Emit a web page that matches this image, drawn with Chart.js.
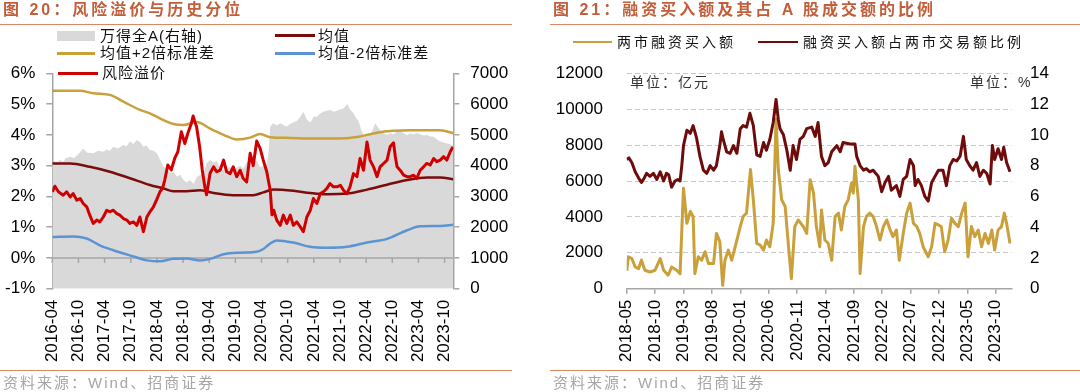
<!DOCTYPE html>
<html><head><meta charset="utf-8">
<script src="https://cdn.jsdelivr.net/npm/chart.js@4.4.0/dist/chart.umd.min.js"></script>
<style>
html,body{margin:0;padding:0;background:#fff;width:1080px;height:392px;overflow:hidden;}
#wrap{position:relative;width:1080px;height:392px;}
canvas{position:absolute;top:0;}
.t{position:absolute;white-space:nowrap;font-family:'Liberation Sans','Noto Sans CJK SC',sans-serif;line-height:18px;}
.title{font-size:16px;font-weight:bold;color:#C25E3A;letter-spacing:3px;top:1px;}
.rule{position:absolute;height:1.5px;background:#DA8763;}
.lg{font-size:15px;color:#111;letter-spacing:1px;}
.lg2{font-size:14px;color:#111;letter-spacing:3px;}
.unit{font-size:14px;color:#333;letter-spacing:2px;}
.sw{position:absolute;}
.src{font-size:15px;color:#A6A6A6;letter-spacing:2px;top:374px;}
</style></head>
<body><div id="wrap">
<canvas id="c1" width="540" height="392" style="left:0"></canvas>
<canvas id="c2" width="540" height="392" style="left:540px"></canvas>

<div class="t title" style="left:3px">图 20：风险溢价与历史分位</div>
<div class="rule" style="left:0;top:23.5px;width:512px"></div>
<div class="sw" style="left:57px;top:31px;width:38px;height:10px;background:#D9D9D9"></div>
<div class="t lg" style="left:100px;top:27px">万得全A(右轴)</div>
<div class="sw" style="left:275px;top:34px;width:40px;height:2.5px;background:#7A0C0C"></div>
<div class="t lg" style="left:318px;top:27px">均值</div>
<div class="sw" style="left:57px;top:52px;width:38px;height:2.5px;background:#C9A13B"></div>
<div class="t lg" style="left:100px;top:44px">均值+2倍标准差</div>
<div class="sw" style="left:275px;top:52px;width:40px;height:2.5px;background:#5B93D3"></div>
<div class="t lg" style="left:318px;top:44px">均值-2倍标准差</div>
<div class="sw" style="left:58px;top:71.5px;width:40px;height:3px;background:#D00000"></div>
<div class="t lg" style="left:102px;top:64px">风险溢价</div>
<div class="rule" style="left:0;top:369.5px;width:512px"></div>
<div class="t src" style="left:3px">资料来源：Wind、招商证券</div>

<div class="t title" style="left:553px">图 21：融资买入额及其占 A 股成交额的比例</div>
<div class="rule" style="left:550px;top:23.5px;width:530px"></div>
<div class="sw" style="left:573px;top:40.5px;width:39px;height:2.5px;background:#C9A03A"></div>
<div class="t lg2" style="left:617px;top:33px">两市融资买入额</div>
<div class="sw" style="left:758px;top:40.5px;width:40px;height:2.5px;background:#6E0B0B"></div>
<div class="t lg2" style="left:803px;top:33px">融资买入额占两市交易额比例</div>
<div class="t unit" style="left:630px;top:73px">单位：亿元</div>
<div class="t unit" style="left:970px;top:73px">单位：%</div>
<div class="rule" style="left:550px;top:369.5px;width:530px"></div>
<div class="t src" style="left:553px">资料来源：Wind、招商证券</div>
</div>
<script>
// ---------- 图20 data (x = months since 2016-04) ----------
const lpXLabels = ['2016-04','2016-10','2017-04','2017-10','2018-04','2018-10','2019-04','2019-10','2020-04','2020-10','2021-04','2021-10','2022-04','2022-10','2023-04','2023-10'];
const premiumMonths = [0,0.6,1.4,2.5,3.3,4.1,4.8,5.6,6.4,7.1,7.9,8.6,9.4,10.2,10.9,11.7,12.5,13.2,14.0,14.8,15.5,16.3,17.1,17.8,18.6,19.4,20.1,20.9,21.7,22.4,23.2,23.9,24.7,25.3,25.8,26.5,27.3,28.1,28.8,29.6,30.4,31.1,31.9,32.3,33.1,33.8,34.4,35.0,35.4,36.2,37.0,37.7,38.5,39.3,40.0,40.8,41.5,42.3,43.1,43.8,44.6,45.4,46.1,46.9,47.7,48.4,49.2,50.0,50.4,50.8,51.5,52.3,53.0,53.8,54.6,55.3,56.1,56.9,57.6,58.4,59.2,59.9,60.7,61.5,62.2,63.0,63.7,64.5,65.3,66.1,66.8,67.6,68.3,69.1,69.9,70.6,71.4,72.2,72.9,73.7,74.5,75.2,76.0,76.8,77.5,78.3,78.7,79.1,79.8,80.6,81.4,82.1,82.9,83.6,84.4,85.2,85.9,86.7,87.5,88.2,89.0,89.8,90.5,91.3,91.9];
const premiumValues = [2.15,2.33,2.15,2.04,2.15,1.98,2.09,1.88,1.93,1.77,1.66,1.39,1.12,1.23,1.17,1.33,1.55,1.50,1.55,1.44,1.39,1.28,1.23,1.12,1.17,1.06,1.33,0.85,1.33,1.50,1.66,1.88,2.15,2.26,2.53,3.02,2.86,3.24,3.45,4.10,3.72,4.05,4.37,4.61,4.26,3.61,2.86,2.31,2.05,2.75,2.96,2.80,2.85,3.18,2.80,2.74,2.96,2.64,2.85,2.58,2.47,3.40,3.00,3.80,3.55,3.18,2.80,2.20,1.40,1.55,1.23,1.06,1.39,1.12,1.39,1.06,1.17,1.01,0.85,1.33,1.55,1.93,1.77,2.09,2.15,2.26,2.42,2.31,2.31,2.36,2.20,2.09,2.31,2.74,2.64,3.23,2.85,3.77,3.18,2.96,2.64,2.96,3.07,3.18,3.61,3.74,3.29,2.96,2.85,2.69,2.64,2.64,2.69,2.58,2.85,2.96,3.07,3.02,3.23,3.13,3.18,3.29,3.18,3.45,3.61];
const indexMonths = [0,0.5,1,1.8,2.5,3,4.1,5,6,7.1,8,9.4,10.5,11.7,12.5,13.2,14,15,16.3,17,17.8,18.6,19.4,20.2,20.9,21.6,22.4,23.2,24,24.7,25.5,26.2,27,27.8,28.6,29.3,30.1,30.8,31.6,32.4,33.2,34,34.7,35.4,36.2,37,37.7,38.5,39.3,40,40.8,41.5,42.3,43.1,43.8,44.6,45.4,46.2,46.9,47.7,48.5,49.2,49.6,50,50.7,51.5,52.3,53,53.8,54.5,55.3,56.1,56.9,57.6,58.4,59.2,60,60.7,61.5,62.2,63,63.8,64.5,65.3,66,66.8,67.7,68.4,69.1,69.7,70.3,70.9,71.4,72.2,73,73.6,74.1,74.7,75.2,76,76.8,77.5,78.3,79,79.8,80.6,81.4,82.2,82.9,83.6,84.4,85.2,86,86.7,87.5,88.3,89,89.8,90.6,91.2,91.7,92];
const indexValues = [4050,4150,4100,4180,4120,4230,4290,4250,4380,4560,4420,4400,4480,4450,4520,4480,4615,4560,4670,4620,4780,4700,4830,4750,4615,4650,4510,4480,4400,4200,3970,3900,3750,3800,3640,3700,3530,3450,3530,3400,3640,3700,3750,4075,4180,4100,4150,3950,3860,3900,3950,3880,3920,4000,3900,4100,4340,4200,4150,3950,4000,4050,4400,5270,5375,5300,5380,5320,5265,5350,5400,5450,5590,5750,5500,5400,5600,5590,5700,5750,5780,5810,5750,5780,5820,5860,6000,5800,5700,5550,5430,5150,4995,5050,5020,5200,5375,5250,5160,5050,4995,5050,5020,5100,5160,5050,4995,5050,5020,5060,5020,4980,4995,4950,4940,4850,4780,4750,4720,4700,4670,4650];
const meanMonths = [0,4.1,8.6,13.2,17.8,22.4,25.5,27.8,30.8,33.9,37,41.5,46.1,48.4,50.7,55.3,59.2,63,67.6,72.2,76.8,81.4,86,89,92];
const meanValues = [3.07,3.07,2.96,2.80,2.59,2.37,2.26,2.17,2.17,2.20,2.11,2.04,2.04,2.13,2.22,2.18,2.11,2.07,2.09,2.22,2.38,2.53,2.61,2.61,2.56];
const upperMonths = [0,3,6.4,9.4,13.2,16.3,20.1,22.4,25.5,27.8,30.1,33.2,36.2,39.3,42.3,45.4,47.7,50,54.6,59.2,65,70.3,74.5,78.3,82,86,89,92];
const upperValues = [5.43,5.43,5.43,5.35,5.30,5.08,4.81,4.70,4.48,4.35,4.32,4.42,4.20,4.00,3.85,3.91,4.03,3.92,3.90,3.88,3.88,3.94,4.07,4.13,4.15,4.15,4.15,4.05];
const lowerMonths = [0,4.8,7.9,10.9,14,18.6,21.7,24.7,27.8,30.8,33.9,36.2,39.3,43.1,46.9,48.5,49.8,51.5,55.3,59.2,63,67.6,72.2,76.8,81.4,84.4,89,92];
const lowerValues = [0.68,0.70,0.63,0.41,0.25,0.05,-0.08,-0.11,-0.03,-0.02,-0.08,-0.03,0.12,0.17,0.20,0.30,0.45,0.57,0.50,0.36,0.33,0.36,0.50,0.62,0.90,1.03,1.04,1.08];

// ---------- 图21 data (x = months since 2018-05) ----------
const rcXLabels = ['2018-05','2018-10','2019-03','2019-08','2020-01','2020-06','2020-11','2021-04','2021-09','2022-02','2022-07','2022-12','2023-05','2023-10'];
const buyMonths = [0,0.3,0.9,1.5,2.1,2.6,3.2,4.1,5.0,5.9,6.5,7.3,7.9,8.8,9.4,10.0,10.6,11.2,11.7,12.0,12.6,13.2,13.8,14.4,15.3,15.8,16.4,16.9,17.3,17.9,18.5,19.4,20.0,20.5,21.1,21.8,22.3,22.9,23.5,24.1,24.6,25.2,25.8,26.3,26.7,27.3,27.9,28.5,29.0,29.6,30.2,31.1,31.7,32.3,32.9,33.4,34.0,34.3,34.9,35.5,36.1,36.7,37.3,37.8,38.4,39.0,39.6,39.9,40.2,40.8,41.1,41.7,42.2,42.8,43.4,44.0,44.6,45.2,45.8,46.4,46.9,47.5,48.0,48.7,49.3,49.9,50.5,51.1,51.6,52.2,53.1,53.7,54.3,54.9,55.4,56.0,56.6,57.2,57.8,58.4,59.0,59.6,60.1,60.7,61.3,61.9,62.5,63.1,63.7,64.3,64.8,65.4,66.0,66.5,66.9,67.5];
const buyValues = [1000,1780,1680,1210,1120,1590,1030,930,1030,1680,1030,750,1210,1030,840,5600,3640,4300,4020,840,1780,1590,2060,1400,1400,3080,2620,190,1590,2150,1590,2710,3460,4020,4210,6640,4950,2520,2430,2150,2710,2340,3640,9440,6640,4950,4580,2340,560,3460,3830,3460,3080,6070,5330,3460,2340,4390,2710,2520,1590,4020,4210,3270,4580,4950,5890,5330,6820,4950,840,3460,4020,4210,4020,3460,2710,3460,3830,3270,2900,3270,1590,3080,4210,4770,3640,3460,3080,2340,1780,2340,3640,3550,3460,2060,2710,3920,3640,3460,4210,4770,1780,3460,2900,3270,2340,3080,2520,3270,2150,3270,3460,4210,3640,2520];
const ratioMonths = [0,0.4,0.9,1.5,2.1,2.6,3.1,3.5,4.1,4.7,5.3,5.9,6.5,7.0,7.4,7.9,8.5,9.0,9.4,9.7,10.0,10.6,11.2,11.7,12.3,12.9,13.5,14.1,14.7,15.3,15.8,16.4,16.7,17.0,17.6,18.2,18.8,19.4,20.0,20.5,21.1,21.7,22.3,22.9,23.5,24.1,24.6,25.2,25.8,26.3,26.7,27.0,27.6,28.2,28.8,29.3,29.9,30.5,31.1,31.7,32.6,33.2,33.7,34.3,34.9,35.5,36.1,37.0,37.6,38.1,39.3,40.2,40.5,41.1,41.7,42.2,42.8,43.4,44.3,44.9,45.5,46.1,46.6,47.5,48.1,48.7,49.3,49.9,50.5,50.8,51.3,51.9,52.5,53.1,53.7,54.3,54.9,55.7,56.3,56.9,57.5,58.1,58.7,59.3,59.8,60.4,61.0,61.6,62.2,62.8,63.4,64.0,64.4,64.8,65.4,66.0,66.4,66.9,67.5];
const ratioValues = [8.4,8.5,8.2,7.6,7.2,6.9,7.2,7.5,7.3,7.5,7.1,7.6,7.0,7.5,7.4,6.6,7.0,7.1,7.0,8.0,9.3,10.3,10.1,10.6,9.8,8.6,7.7,7.5,8.0,7.7,8.0,9.3,10.2,9.7,8.9,8.8,9.3,8.8,10.4,10.6,10.5,11.4,10.6,8.7,8.6,9.5,9.0,9.7,10.8,12.3,11.0,10.4,10.0,9.0,7.7,9.3,8.4,9.7,9.9,10.4,10.5,9.9,10.8,8.6,8.0,8.2,8.9,9.3,8.9,9.5,9.4,9.4,8.6,8.0,7.7,7.8,7.6,7.7,7.3,6.3,6.9,7.3,6.4,6.7,6.0,7.1,7.3,8.4,8.0,6.7,7.1,6.7,6.0,5.7,6.9,7.3,7.7,7.7,6.7,8.0,8.4,8.3,8.6,9.9,8.4,8.0,7.7,8.2,7.3,7.7,7.5,6.8,9.3,8.4,9.1,8.4,9.2,8.2,7.6];

// ---------- drawing ----------
const AX = '#A6A6A6';
Chart.defaults.font.family = "'Liberation Sans', Arial, sans-serif";
Chart.defaults.font.size = 17;
Chart.defaults.color = '#000';
const pts = (xs, ys) => xs.map((x, i) => ({x: x, y: ys[i]}));
const lineDs = (label, xs, ys, color, w, axis, smooth) => ({
  label, data: pts(xs, ys), borderColor: color, borderWidth: w, pointRadius: 0,
  fill: false, yAxisID: axis, tension: 0, cubicInterpolationMode: smooth ? 'monotone' : 'default',
  borderJoinStyle: 'round'
});

// zero-percent category axis line for 图20, drawn right after the grey area
const zeroAxis = {
  id: 'zeroAxis',
  afterDatasetDraw(chart, args) {
    if (args.index !== 4) return;
    const {ctx, chartArea: a} = chart;
    const x = chart.scales.x, y = chart.scales.y;
    const y0 = y.getPixelForValue(0);
    ctx.save();
    ctx.strokeStyle = AX; ctx.lineWidth = 1.5;
    ctx.beginPath();
    ctx.moveTo(a.left, y0); ctx.lineTo(a.right, y0);
    x.ticks.forEach(t => { const px = x.getPixelForValue(t.value); ctx.moveTo(px, y0); ctx.lineTo(px, y0 + 5); });
    ctx.stroke();
    ctx.restore();
  }
};

new Chart(document.getElementById('c1'), {
  type: 'line',
  data: { datasets: [
    lineDs('风险溢价', premiumMonths, premiumValues, '#D00000', 3, 'y', false),
    lineDs('均值', meanMonths, meanValues, '#7A0C0C', 2.5, 'y', true),
    lineDs('均值+2倍标准差', upperMonths, upperValues, '#C9A13B', 2.5, 'y', true),
    lineDs('均值-2倍标准差', lowerMonths, lowerValues, '#5B93D3', 2.5, 'y', true),
    { label: '万得全A(右轴)', data: pts(indexMonths, indexValues), yAxisID: 'y1', borderWidth: 0,
      backgroundColor: '#D9D9D9', fill: 'origin', pointRadius: 0, tension: 0 }
  ]},
  options: {
    responsive: false, animation: false, events: [],
    layout: { padding: { top: 73.3, left: 0, right: 0, bottom: 0 } },
    plugins: { legend: { display: false }, tooltip: { enabled: false } },
    scales: {
      x: { type: 'linear', min: 0, max: 92,
        afterFit: s => { s.height = 103.3; },
        afterBuildTicks: s => { s.ticks = lpXLabels.map((l, i) => ({ value: i * 6 })); },
        ticks: { callback: v => lpXLabels[Math.round(v / 6)], minRotation: 90, maxRotation: 90, autoSkip: false, padding: 11 },
        grid: { display: false, drawTicks: false }, border: { display: false } },
      y: { position: 'left', min: -1, max: 6,
        afterFit: s => { s.width = 52.3; },
        ticks: { stepSize: 1, callback: v => v + '%', padding: 11 },
        grid: { drawOnChartArea: false, color: AX, tickLength: 6, lineWidth: 1.5 },
        border: { color: AX, width: 1.5 } },
      y1: { position: 'right', min: 0, max: 7000,
        afterFit: s => { s.width = 86.7; },
        ticks: { stepSize: 1000, callback: v => String(v), padding: 11 },
        grid: { drawOnChartArea: false, color: AX, tickLength: 6, lineWidth: 1.5 },
        border: { color: AX, width: 1.5 } }
    }
  },
  plugins: [zeroAxis]
});

new Chart(document.getElementById('c2'), {
  type: 'line',
  data: { datasets: [
    lineDs('融资买入额占两市交易额比例', ratioMonths, ratioValues, '#6E0B0B', 3, 'y1', false),
    lineDs('两市融资买入额', buyMonths, buyValues, '#C9A03A', 3, 'y', false)
  ]},
  options: {
    responsive: false, animation: false, events: [],
    layout: { padding: { top: 73.3, left: 0, right: 0, bottom: 0 } },
    plugins: { legend: { display: false }, tooltip: { enabled: false } },
    scales: {
      x: { type: 'linear', min: 0, max: 67.8,
        afterFit: s => { s.height = 103.3; },
        afterBuildTicks: s => { s.ticks = rcXLabels.map((l, i) => ({ value: i * 5 })); },
        ticks: { callback: v => rcXLabels[Math.round(v / 5)], minRotation: 90, maxRotation: 90, autoSkip: false, padding: 6 },
        grid: { drawOnChartArea: false, color: AX, tickLength: 5, lineWidth: 1.5 },
        border: { color: AX, width: 1.5 } },
      y: { position: 'left', min: 0, max: 12000,
        afterFit: s => { s.width = 86.7; },
        ticks: { stepSize: 2000, callback: v => String(v), padding: 23.7 },
        grid: { drawTicks: false, lineWidth: 1, color: c => (c.tick && c.tick.value === 0) ? 'rgba(0,0,0,0)' : '#C8C8C8' },
        border: { display: false, dash: [5, 3] } },
      y1: { position: 'right', min: 0, max: 14,
        afterFit: s => { s.width = 68.3; },
        ticks: { stepSize: 2, padding: 18.3 },
        grid: { display: false, drawTicks: false }, border: { display: false } }
    }
  }
});
</script>
</body></html>
